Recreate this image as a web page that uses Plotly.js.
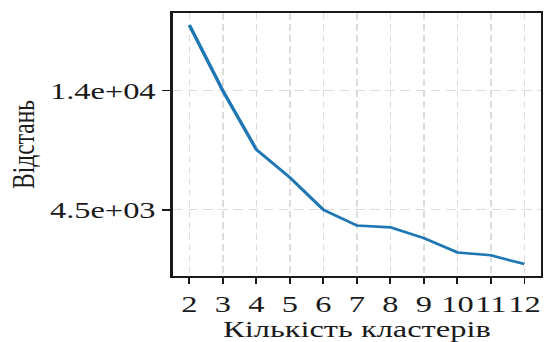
<!DOCTYPE html>
<html>
<head>
<meta charset="utf-8">
<script src="https://cdn.plot.ly/plotly-3.0.1.min.js"></script>
<style>
  html, body { margin: 0; padding: 0; background: #fff; overflow: hidden; }
  #chart { width: 394px; height: 342px; transform: scaleX(1.3807); transform-origin: 0 0; }
</style>
</head>
<body>
<div id="chart"></div>
<script>
// Elbow curve: summed distance for each number of clusters
const clusterCounts = [2, 3, 4, 5, 6, 7, 8, 9, 10, 11, 12];
const distances = [19250, 14000, 9300, 7080, 4500, 3250, 3100, 2240, 1100, 870, 175];
const yTickValues = [4500, 14000];
const yTickLabels = ['4.5e+03', '1.4e+04'];

const yMin = Math.min(...distances);
const yMax = Math.max(...distances);
const yPad = 0.05 * (yMax - yMin);

const serif = "'Liberation Serif', 'Times New Roman', serif";
const ink = '#1a1a1a';

const trace = {
  x: clusterCounts,
  y: distances,
  type: 'scatter',
  mode: 'lines',
  line: { color: '#1f77b4', width: 2.6 },
  hoverinfo: 'skip'
};

const layout = {
  width: 394,
  height: 342,
  margin: { l: 125, r: 2, t: 13, b: 66 },
  paper_bgcolor: '#ffffff',
  plot_bgcolor: '#ffffff',
  showlegend: false,
  font: { family: serif, size: 23.5, color: ink },
  xaxis: {
    range: [1.5, 12.5],
    tickmode: 'array',
    tickvals: clusterCounts,
    ticktext: clusterCounts.map(String),
    tickangle: 0,
    ticks: 'outside',
    ticklen: 6,
    tickwidth: 1.4,
    tickcolor: ink,
    showline: true,
    linecolor: ink,
    linewidth: 1.6,
    mirror: true,
    showgrid: true,
    gridcolor: '#dcdcdc',
    gridwidth: 1.2,
    griddash: '7px,4px',
    zeroline: false,
    tickfont: { family: serif, size: 23.5, color: ink },
    title: { text: 'Кількість кластерів', font: { family: serif, size: 23.5, color: ink }, standoff: 1 }
  },
  yaxis: {
    range: [yMin - yPad, yMax + yPad],
    tickmode: 'array',
    tickvals: yTickValues,
    ticktext: yTickLabels,
    ticks: 'outside',
    ticklen: 6,
    tickwidth: 1.4,
    tickcolor: ink,
    showline: true,
    linecolor: ink,
    linewidth: 1.6,
    mirror: true,
    showgrid: true,
    gridcolor: '#dcdcdc',
    gridwidth: 1.2,
    griddash: '7px,4px',
    zeroline: false,
    tickfont: { family: serif, size: 23.5, color: ink },
    title: { text: 'Відстань', font: { family: serif, size: 23.5, color: ink }, standoff: 4 }
  }
};

Plotly.newPlot('chart', [trace], layout, { displayModeBar: false, staticPlot: true });
</script>
</body>
</html>
